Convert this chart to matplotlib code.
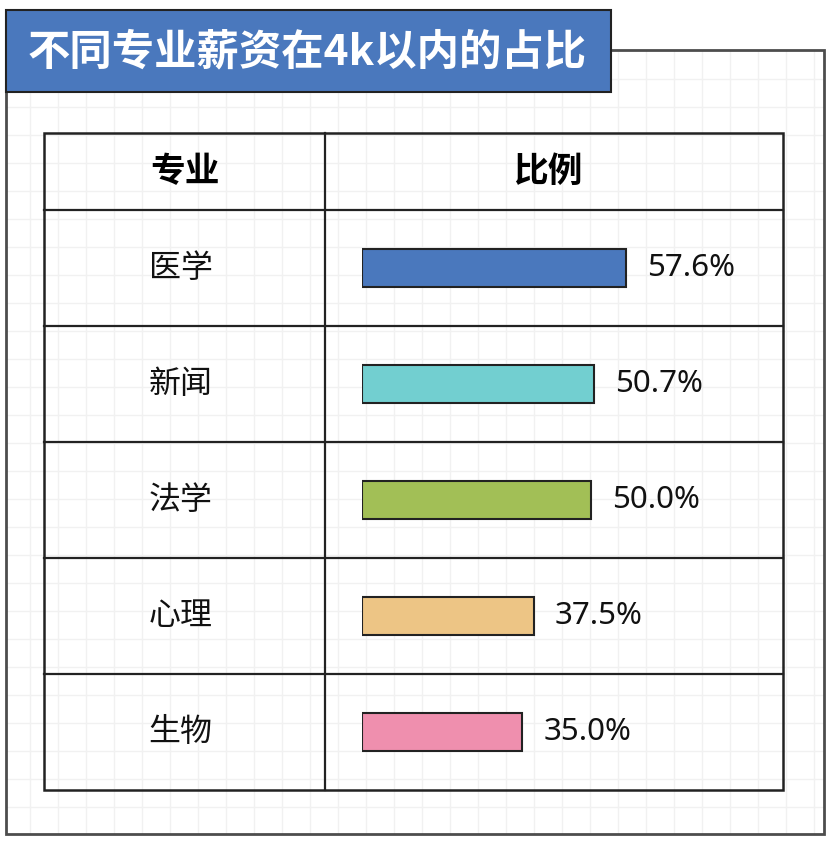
import matplotlib
matplotlib.use("Agg")
import matplotlib.pyplot as plt
from matplotlib.patches import Rectangle
import numpy as np

plt.rcParams["font.family"] = ["Noto Sans CJK SC", "DejaVu Sans"]

# --- data ---
title = "不同专业薪资在4k以内的占比"
headers = ["专业", "比例"]
majors = ["医学", "新闻", "法学", "心理", "生物"]
shares = [57.6, 50.7, 50.0, 37.5, 35.0]
colors = ["#4a78bd", "#72cfd0", "#a2bf56", "#edc585", "#ef8fae"]

W, H = 831, 843
fig = plt.figure(figsize=(W / 100, H / 100), dpi=100)

# background axes in pixel coordinates
bg = fig.add_axes([0, 0, 1, 1])
bg.set_xlim(0, W)
bg.set_ylim(H, 0)
bg.axis("off")

# outer frame with faint grid
fx0, fy0, fx1, fy1 = 6, 50, 824, 834
for gx in np.arange(2, fx1, 28):
    if gx > fx0:
        bg.plot([gx, gx], [fy0, fy1], color="#f1f1f1", lw=1, zorder=0)
for gy in np.arange(79, fy1, 28):
    bg.plot([fx0, fx1], [gy, gy], color="#f1f1f1", lw=1, zorder=0)
bg.add_patch(Rectangle((fx0, fy0), fx1 - fx0, fy1 - fy0, fill=False,
                       edgecolor="#4d4d4d", lw=2, zorder=2))

# title box
bg.add_patch(Rectangle((6, 10), 605, 82, facecolor="#4a78bd",
                       edgecolor="#222222", lw=1.5, zorder=3))
bg.text(307, 52, title, color="white", fontsize=30.5, fontweight="bold",
        ha="center", va="center", zorder=4)

# table
tx0, tx1, tmid = 44, 783, 325
ty0, thead = 133, 210
row_h = 116
ty1 = thead + row_h * len(majors)
lc = "#222222"
bg.add_patch(Rectangle((tx0, ty0), tx1 - tx0, ty1 - ty0, fill=False,
                       edgecolor=lc, lw=1.8, zorder=2))
bg.plot([tmid, tmid], [ty0, ty1], color=lc, lw=1.6, zorder=2)
for k in range(len(majors)):
    y = thead + row_h * k
    bg.plot([tx0, tx1], [y, y], color=lc, lw=1.6, zorder=2)

bg.text((tx0 + tmid) / 2, (ty0 + thead) / 2, headers[0], fontsize=25,
        fontweight="bold", ha="center", va="center")
bg.text((tmid + tx1) / 2 - 6, (ty0 + thead) / 2, headers[1], fontsize=25,
        fontweight="bold", ha="center", va="center")
for k, name in enumerate(majors):
    bg.text((tx0 + tmid) / 2 - 4, thead + row_h * (k + 0.5), name, fontsize=23,
            ha="center", va="center", color="#111111")

# bar axes over the right column
bx0 = 362
px_per_pct = 4.58
ax = fig.add_axes([bx0 / W, 1 - ty1 / H, (tx1 - bx0) / W, (ty1 - thead) / H])
ax.set_xlim(0, (tx1 - bx0) / px_per_pct)
ax.set_ylim(len(majors) - 0.5, -0.5)
ax.axis("off")
ax.patch.set_alpha(0)
ypos = np.arange(len(majors))
ax.barh(ypos, shares, height=0.33, color=colors, edgecolor="#222222",
        lw=1.5, align="center")
for i, v in enumerate(shares):
    ax.text(v + 4.6, i, f"{v:.1f}%", fontsize=22.5, ha="left", va="center",
            color="#111111", family=["Noto Sans", "DejaVu Sans"])

fig.savefig("out.png", dpi=100)
